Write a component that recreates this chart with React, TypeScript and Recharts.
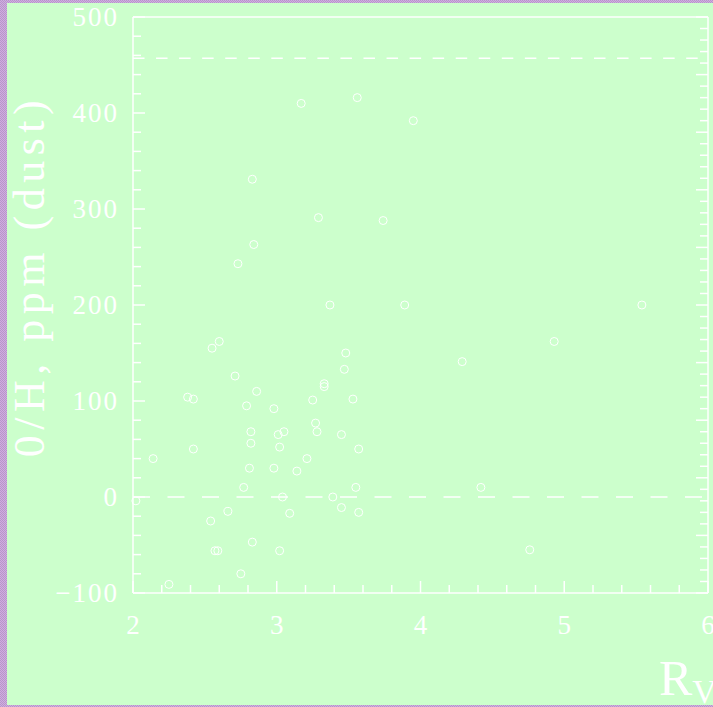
import { ScatterChart, Scatter, XAxis, YAxis, ReferenceLine } from 'recharts';

// R_V and O/H (dust) per sightline
const rvValues = [
  2.02, 2.14, 2.25, 2.38, 2.42, 2.42, 2.54, 2.55, 2.6, 2.57,
  2.59, 2.66, 2.71, 2.73, 2.75, 2.77, 2.79, 2.81, 2.82, 2.82,
  2.83, 2.83, 2.84, 2.86, 2.98, 2.98, 3.01, 3.02, 3.02, 3.04,
  3.05, 3.09, 3.14, 3.17, 3.21, 3.25, 3.27, 3.28, 3.29, 3.33,
  3.33, 3.37, 3.39, 3.45, 3.45, 3.47, 3.48, 3.53, 3.55, 3.56,
  3.57, 3.57, 3.74, 3.89, 3.95, 4.29, 4.42, 4.76, 4.93, 5.54,
];
const ohValues = [
  -4, 40, -91, 104, 102, 50, -25, 155, 162, -56,
  -56, -15, 126, 243, -80, 10, 95, 30, 56, 68,
  331, -47, 263, 110, 92, 30, 65, -56, 52, 0,
  68, -17, 27, 410, 40, 101, 77, 68, 291, 118,
  115, 200, 0, -11, 65, 133, 150, 102, 10, 416,
  50, -16, 288, 200, 392, 141, 10, -55, 162, 200,
];

// dashed reference levels
const refLevels = [0, 457];

// ticks
const xTicks = [2, 2.2, 2.4, 2.6, 2.8, 3, 3.2, 3.4, 3.6, 3.8, 4, 4.2, 4.4, 4.6, 4.8, 5, 5.2, 5.4, 5.6, 5.8, 6];
const xLabels = [2, 3, 4, 5, 6];
const yTicks = [
  -100, -80, -60, -40, -20, 0, 20, 40, 60, 80, 100, 120, 140, 160, 180, 200, 220, 240, 260, 280,
  300, 320, 340, 360, 380, 400, 420, 440, 460, 480, 500,
];
const yLabels = [-100, 0, 100, 200, 300, 400, 500];
const topTicks = [0, 1, 2, 3, 4, 5, 6, 7, 8, 9, 10, 11, 12];
const rightTicks = [
  0, 0.2, 0.4, 0.6, 0.8, 1, 1.2, 1.4, 1.6, 1.8, 2, 2.2, 2.4, 2.6, 2.8, 3, 3.2, 3.4, 3.6, 3.8, 4,
  4.2, 4.4, 4.6, 4.8, 5, 5.2, 5.4, 5.6, 5.8, 6, 6.2, 6.4, 6.6, 6.8, 7, 7.2, 7.4, 7.6, 7.8, 8,
  8.2, 8.4, 8.6, 8.8, 9, 9.2, 9.4, 9.6, 9.8, 10,
];

const points = rvValues.map((rv, i) => ({ rv, oh: ohValues[i] }));

const FONT = '"Liberation Serif", "DejaVu Serif", serif';
const WHITE = '#ffffff';
const GREEN = '#ccffcc';

const isWhole = (v: number) => Math.abs(v - Math.round(v)) < 1e-6;
const fmt = (v: number) => (v < 0 ? '\u2212' + Math.abs(v) : String(v));

function BottomTick(props: any) {
  const { x, y, payload } = props;
  const v = payload.value;
  const major = isWhole(v);
  const showLabel = xLabels.some((l) => Math.abs(l - v) < 1e-6);
  return (
    <g>
      <line x1={x} y1={y} x2={x} y2={y - (major ? 12 : 8)} stroke={WHITE} strokeWidth={1.5} />
      {showLabel && (
        <text x={x + 1} y={y + 41} textAnchor="middle" fill={WHITE} fontFamily={FONT} fontSize={27} letterSpacing={2}>
          {fmt(Math.round(v))}
        </text>
      )}
    </g>
  );
}

function LeftTick(props: any) {
  const { x, y, payload } = props;
  const v = payload.value;
  const major = v % 100 === 0;
  const showLabel = yLabels.includes(v);
  return (
    <g>
      <line x1={x} y1={y} x2={x + (major ? 12 : 8)} y2={y} stroke={WHITE} strokeWidth={1.5} />
      {showLabel && (
        <text x={x - 14} y={y + 9} textAnchor="end" fill={WHITE} fontFamily={FONT} fontSize={27} letterSpacing={2}>
          {fmt(v)}
        </text>
      )}
    </g>
  );
}

function TopTick(props: any) {
  const { x, y, payload } = props;
  const major = payload.value % 2 === 0;
  return <line x1={x} y1={y} x2={x} y2={y + (major ? 12 : 8)} stroke={WHITE} strokeWidth={1.5} />;
}

function RightTick(props: any) {
  const { x, y, payload } = props;
  const major = isWhole(payload.value);
  return <line x1={x} y1={y} x2={x - (major ? 12 : 8)} y2={y} stroke={WHITE} strokeWidth={1.5} />;
}

function HollowDot(props: any) {
  const { cx, cy } = props;
  return <circle cx={cx} cy={cy} r={4} fill="none" stroke={WHITE} strokeWidth={1} />;
}

export default function App() {
  return (
    <div
      style={{
        position: 'absolute',
        left: 0,
        top: 0,
        width: 713,
        height: 707,
        overflow: 'hidden',
        background: 'repeating-conic-gradient(#cfaedf 0 25%, #b895cb 0 50%) 0 0 / 2px 2px',
      }}
    >
      <div style={{ position: 'absolute', left: 7, top: 3, width: 706, height: 702, background: GREEN }} />
      <div style={{ position: 'absolute', left: 0, top: 0 }}>
        <ScatterChart width={713} height={707} margin={{ top: 16, right: 4, bottom: 113, left: 132 }}>
          <XAxis
            xAxisId="bottom"
            dataKey="rv"
            type="number"
            domain={[2, 6]}
            ticks={xTicks}
            interval={0}
            height={1}
            tickSize={0}
            tickMargin={0}
            tickLine={false}
            axisLine={{ stroke: WHITE, strokeWidth: 1.5 }}
            tick={<BottomTick />}
          />
          <XAxis
            xAxisId="top"
            orientation="top"
            type="number"
            domain={[0, 12]}
            allowDataOverflow
            ticks={topTicks}
            interval={0}
            height={1}
            tickSize={0}
            tickMargin={0}
            tickLine={false}
            axisLine={{ stroke: WHITE, strokeWidth: 1.5 }}
            tick={<TopTick />}
          />
          <YAxis
            yAxisId="left"
            dataKey="oh"
            type="number"
            domain={[-100, 500]}
            ticks={yTicks}
            interval={0}
            width={1}
            tickSize={0}
            tickMargin={0}
            tickLine={false}
            axisLine={{ stroke: WHITE, strokeWidth: 1.5 }}
            tick={<LeftTick />}
          />
          <YAxis
            yAxisId="right"
            orientation="right"
            type="number"
            domain={[0, 10]}
            allowDataOverflow
            ticks={rightTicks}
            interval={0}
            width={1}
            tickSize={0}
            tickMargin={0}
            tickLine={false}
            axisLine={{ stroke: WHITE, strokeWidth: 1.5 }}
            tick={<RightTick />}
          />
          <ReferenceLine
            xAxisId="bottom"
            yAxisId="left"
            y={refLevels[0]}
            stroke={WHITE}
            strokeWidth={1.5}
            strokeDasharray="17 17.5"
          />
          <ReferenceLine
            xAxisId="bottom"
            yAxisId="left"
            y={refLevels[1]}
            stroke={WHITE}
            strokeWidth={1.5}
            strokeDasharray="11.5 11.55"
          />
          <Scatter
            xAxisId="bottom"
            yAxisId="left"
            data={points}
            shape={<HollowDot />}
            isAnimationActive={false}
          />
        </ScatterChart>
      </div>
      <svg width={713} height={707} style={{ position: 'absolute', left: 0, top: 0, pointerEvents: 'none' }}>
        <text
          x={44}
          y={276}
          transform="rotate(-90, 44, 276)"
          textAnchor="middle"
          fill={WHITE}
          fontFamily={FONT}
          fontSize={44}
          letterSpacing={5.5}
        >
          0/H, ppm (dust)
        </text>
        <text x={659} y={695} fill={WHITE} fontFamily={FONT} fontSize={50}>
          R
          <tspan fontSize={34} dy={8}>
            V
          </tspan>
        </text>
      </svg>
    </div>
  );
}
